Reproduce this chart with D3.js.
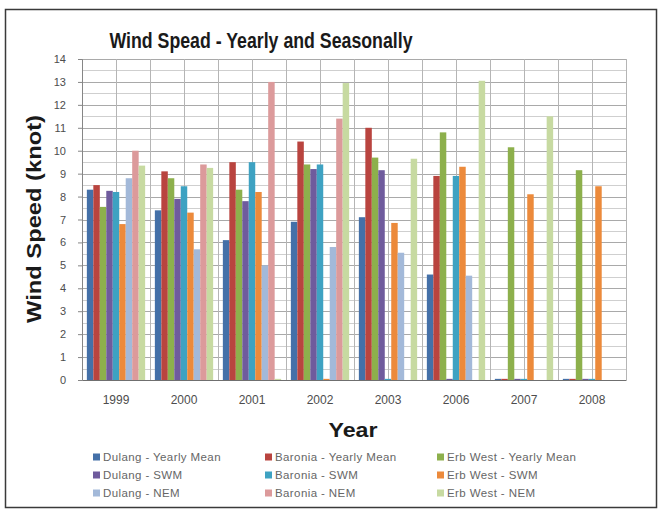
<!DOCTYPE html>
<html>
<head>
<meta charset="utf-8">
<script src="https://cdn.jsdelivr.net/npm/d3@7"></script>
<style>
  html, body { margin: 0; padding: 0; background: #fff; }
  svg { display: block; }
  text { font-family: "Liberation Sans", "DejaVu Sans", sans-serif; }
</style>
</head>
<body>
<svg id="chart" width="662" height="514"></svg>
<script>
// Years on the category axis
const years = ["1999", "2000", "2001", "2002", "2003", "2006", "2007", "2008"];

// Series names (station - period)
const seriesNames = [
  "Dulang - Yearly Mean", "Baronia - Yearly Mean", "Erb West - Yearly Mean",
  "Dulang - SWM", "Baronia - SWM", "Erb West - SWM",
  "Dulang - NEM", "Baronia - NEM", "Erb West - NEM"
];

// Wind speed (knot) per series, one value per year
const dulangYearly  = [8.3, 7.4, 6.1, 6.9, 7.1, 4.6, 0.05, 0.05];
const baroniaYearly = [8.5, 9.1, 9.5, 10.4, 11.0, 8.9, 0.05, 0.05];
const erbYearly     = [7.55, 8.8, 8.3, 9.4, 9.7, 10.8, 10.15, 9.15];
const dulangSWM     = [8.25, 7.9, 7.8, 9.2, 9.15, 0.05, 0.05, 0.05];
const baroniaSWM    = [8.2, 8.45, 9.5, 9.4, 0.05, 8.9, 0.05, 0.05];
const erbSWM        = [6.8, 7.3, 8.2, 0.05, 6.85, 9.3, 8.1, 8.45];
const dulangNEM     = [8.8, 5.7, 5.0, 5.8, 5.55, 4.55, 0, 0];
const baroniaNEM    = [10.0, 9.4, 13.0, 11.4, 0, 0, 0, 0];
const erbNEM        = [9.35, 9.25, 0.05, 12.95, 9.65, 13.05, 11.5, 0];

const seriesValues = [
  dulangYearly, baroniaYearly, erbYearly,
  dulangSWM, baroniaSWM, erbSWM,
  dulangNEM, baroniaNEM, erbNEM
];

const colors = [
  "#4470a8", "#b9443f", "#8db04c",
  "#6f5b9d", "#3ea2c2", "#ec8a3b",
  "#a3b9d9", "#dc9a9b", "#c7daa1"
];

const yTicks = d3.range(0, 15);

const svg = d3.select("#chart");

// Outer frame
svg.append("rect")
  .attr("x", 5.5).attr("y", 9.5)
  .attr("width", 651).attr("height", 498)
  .attr("fill", "#fff").attr("stroke", "#3a3a3a").attr("stroke-width", 1.5);

const plot = { left: 82, right: 626, top: 59, bottom: 380 };

const x = d3.scaleBand().domain(years).range([plot.left, plot.right]).padding(0);
const gapFrac = 1.5 / (seriesNames.length + 1.5);
const xs = d3.scaleBand()
  .domain(d3.range(seriesNames.length))
  .range([x.bandwidth() * gapFrac / 2, x.bandwidth() * (1 - gapFrac / 2)])
  .padding(0);
const y = d3.scaleLinear().domain([0, 14]).range([plot.bottom, plot.top]);

// Horizontal gridlines every 0.5 knot
const grid = svg.append("g");
d3.range(0.5, 14.01, 0.5).forEach(v => {
  grid.append("line")
    .attr("x1", plot.left).attr("x2", plot.right)
    .attr("y1", Math.round(y(v)) + 0.5).attr("y2", Math.round(y(v)) + 0.5)
    .attr("stroke", Number.isInteger(v) ? "#a9a9a9" : "#cfcfcf")
    .attr("stroke-width", 1);
});
// Vertical gridlines at every half category
years.forEach(yr => {
  [x(yr) + x.bandwidth() / 2, x(yr) + x.bandwidth()].forEach(px => {
    grid.append("line")
      .attr("x1", Math.round(px) + 0.5).attr("x2", Math.round(px) + 0.5)
      .attr("y1", plot.top).attr("y2", plot.bottom)
      .attr("stroke", "#b5b5b5").attr("stroke-width", 1);
  });
});

// Bars
const groups = svg.append("g").selectAll("g")
  .data(years)
  .join("g")
  .attr("transform", d => `translate(${x(d)},0)`);

groups.selectAll("rect")
  .data((d, i) => seriesValues.map((vals, s) => ({ s, v: vals[i] })))
  .join("rect")
  .attr("x", d => xs(d.s))
  .attr("width", xs.bandwidth())
  .attr("y", d => y(d.v))
  .attr("height", d => y(0) - y(d.v))
  .attr("fill", d => colors[d.s]);

// Axes
const yAxis = svg.append("g")
  .attr("transform", `translate(${plot.left},0)`)
  .call(d3.axisLeft(y).tickValues(yTicks).tickSize(4).tickPadding(12));
yAxis.select(".domain").attr("stroke", "#868686");
yAxis.selectAll(".tick line").attr("stroke", "#868686");
yAxis.selectAll(".tick text")
  .attr("fill", "#4d4d4d").attr("font-size", 11)
  .attr("font-family", "Liberation Sans, sans-serif");

const xAxis = svg.append("g")
  .attr("transform", `translate(0,${plot.bottom})`)
  .call(d3.axisBottom(x).tickSize(0).tickPadding(15));
xAxis.select(".domain").attr("stroke", "#6f6f6f");
xAxis.selectAll(".tick text")
  .attr("fill", "#4d4d4d").attr("font-size", 12)
  .attr("font-family", "Liberation Sans, sans-serif");

// Titles
svg.append("text")
  .attr("x", 261).attr("y", 48)
  .attr("text-anchor", "middle")
  .attr("font-size", 22).attr("font-weight", "bold").attr("fill", "#1a1a1a")
  .attr("textLength", 303).attr("lengthAdjust", "spacingAndGlyphs")
  .text("Wind Spead - Yearly and Seasonally");

svg.append("text")
  .attr("transform", "translate(41,219) rotate(-90)")
  .attr("text-anchor", "middle")
  .attr("font-size", 20).attr("font-weight", "bold").attr("fill", "#1a1a1a")
  .attr("textLength", 208).attr("lengthAdjust", "spacingAndGlyphs")
  .text("Wind Speed (knot)");

svg.append("text")
  .attr("x", 353).attr("y", 437)
  .attr("text-anchor", "middle")
  .attr("font-size", 20).attr("font-weight", "bold").attr("fill", "#1a1a1a")
  .attr("textLength", 49).attr("lengthAdjust", "spacingAndGlyphs")
  .text("Year");

// Legend: 3 columns x 3 rows, filled row by row
const legendCols = [93, 265, 437];
const legendRows = [457, 475, 493];
const legend = svg.append("g").selectAll("g")
  .data(seriesNames)
  .join("g")
  .attr("transform", (d, i) => `translate(${legendCols[i % 3]},${legendRows[Math.floor(i / 3)]})`);
legend.append("rect")
  .attr("x", 0).attr("y", -3.5).attr("width", 7).attr("height", 7)
  .attr("fill", (d, i) => colors[i]);
legend.append("text")
  .attr("x", 10).attr("y", 4)
  .attr("font-size", 11.5).attr("letter-spacing", 0.4).attr("fill", "#666")
  .text(d => d);
</script>
</body>
</html>
